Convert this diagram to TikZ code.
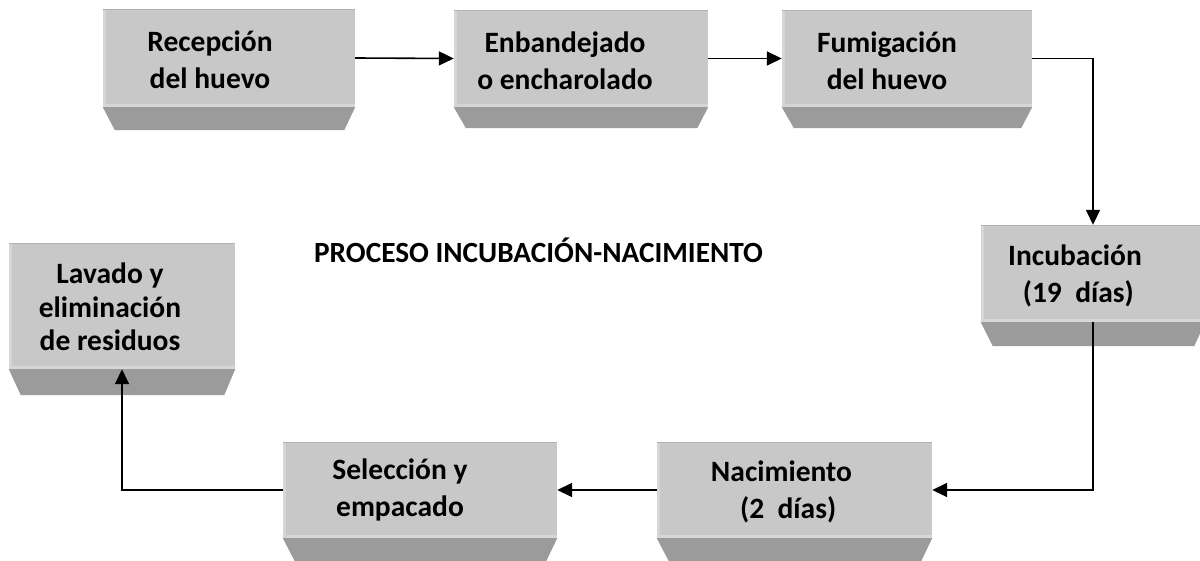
\documentclass[tikz,border=0pt]{standalone}
\usepackage{fontspec}
\setmainfont{Carlito}
\usetikzlibrary{arrows.meta}
\definecolor{facegray}{RGB}{200,200,200}
\definecolor{sidegray}{RGB}{155,155,155}
\definecolor{edgelight}{RGB}{214,214,214}
\definecolor{edgedark}{RGB}{178,178,178}
\begin{document}
\begin{tikzpicture}[x=1pt,y=-1pt,
  face/.style={fill=facegray, inner sep=0pt},
  txt/.style={font=\fontsize{29.5}{37}\selectfont\bfseries, align=center, inner sep=0pt},
  ttl/.style={font=\fontsize{29.3}{32}\selectfont\bfseries, inner sep=0pt},
  conn/.style={line width=1.6pt, -{Triangle[length=15pt,width=14pt]}}
]
\useasboundingbox (0,0) rectangle (1200,561);
\clip (0,0) rectangle (1200,561);
\fill[white] (0,0) rectangle (1200,561);

\node[face, minimum width=252pt, minimum height=98pt,
  label={[txt,xshift=-19pt,yshift=-2pt]center:Recepción\\del huevo}] (a) at (229,58) {};
\node[face, minimum width=254pt, minimum height=97pt,
  label={[txt,xshift=-16pt,yshift=-2pt]center:Enbandejado\\o encharolado}] (b) at (581,58.5) {};
\node[face, minimum width=250pt, minimum height=97pt,
  label={[txt,xshift=-20pt,yshift=-2pt]center:Fumigación\\del huevo}] (c) at (907,58.5) {};
\node[face, minimum width=224pt, minimum height=97pt,
  label={[txt,xshift=-18pt,yshift=-2pt]center:Incubación\\\ (19\ \ días)}] (d) at (1093,273.5) {};
\node[face, minimum width=226pt, minimum height=126pt,
  label={[txt,font=\fontsize{29.5}{33.5}\selectfont\bfseries,xshift=-12pt,yshift=-1pt]center:Lavado y\\eliminación\\de residuos}] (e) at (122,306) {};
\node[face, minimum width=274pt, minimum height=96pt,
  label={[txt,xshift=-20pt,yshift=0pt]center:Selección y\\empacado}] (f) at (420,490) {};
\node[face, minimum width=275pt, minimum height=96pt,
  label={[txt,xshift=-13pt,yshift=-2pt]center:Nacimiento\\\ \ (2\ \ días)}] (g) at (794.5,490) {};

\foreach \n/\dd in {a/23,b/21,c/21,d/24,e/26,f/23,g/23}{
  \fill[sidegray] (\n.south west) -- (\n.south east)
    -- ([xshift=-11pt,yshift=-\dd pt]\n.south east)
    -- ([xshift=12pt,yshift=-\dd pt]\n.south west) -- cycle;
  \fill[edgelight] (\n.south west) rectangle ([yshift=3pt]\n.south east);
  \fill[edgelight] (\n.south west) rectangle ([xshift=3pt]\n.north west);
  \fill[edgedark] (\n.north west) rectangle ([yshift=-1.5pt]\n.north east);
}

\node[ttl, anchor=base] (t) at (538.5,263) {PROCESO INCUBACIÓN-NACIMIENTO};

\draw[conn] (a.east) -- (b.west);
\draw[conn] (b.east) -- (c.west);
\draw[conn] (c.east) -| (d.north);
\draw[conn] (d.south) |- (g.east);
\draw[conn] (g.west) -- (f.east);
\draw[conn] (f.west) -| (e.south);
\end{tikzpicture}
\end{document}
